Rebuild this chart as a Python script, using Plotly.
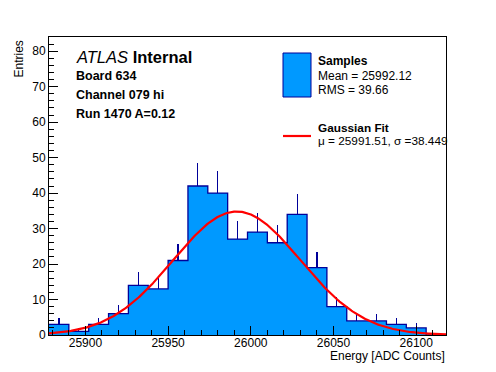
import numpy as np
import plotly.graph_objects as go

# ---- data ----
BIN_LOW = 25878
BIN_WIDTH = 12
counts = [3, 1, 3, 6, 14, 13, 21, 42, 40, 27, 29, 26, 34, 19, 8, 4, 4, 3, 2, 0]
x_range = [25878, 26118]
y_range = [0, 84]
x_ticks = [25900, 25950, 26000, 26050, 26100]
x_tick_labels = ["25900", "25950", "26000", "26050", "26100"]
y_ticks = [0, 10, 20, 30, 40, 50, 60, 70, 80]
y_tick_labels = ["0", "10", "20", "30", "40", "50", "60", "70", "80"]

FIT_MU = 25991.51
FIT_SIGMA = 38.449
FIT_AMP = 34.8

legend_lines = ["Samples", "Mean = 25992.12", "RMS = 39.66"]
fit_lines = ["Gaussian Fit", "\u03bc = 25991.51, \u03c3 =38.449"]
label_lines = ["Board 634", "Channel 079 hi", "Run 1470 A=0.12"]

FILL = "#0099ff"
EDGE = "#000099"
FONT = "Liberation Sans, Arial, Helvetica, sans-serif"

# ---- geometry (window pixels); page body has an 8px margin ----
OFF = 8
WIN_W, WIN_H = 496, 372
L, R, T, B = 49, 446, 37, 335


def px(xp):
    return (xp - L) / (R - L)


def py(yp):
    return (B - yp) / (B - T)


n = len(counts)
edges = [BIN_LOW + i * BIN_WIDTH for i in range(n + 1)]
centers = [BIN_LOW + (i + 0.5) * BIN_WIDTH for i in range(n)]
errs = list(np.sqrt(np.array(counts, dtype=float)))

fig = go.Figure()
fig.add_trace(go.Bar(
    x=centers, y=counts, width=BIN_WIDTH,
    marker=dict(color=FILL, line=dict(width=0)),
    error_y=dict(type="data", symmetric=False, array=errs,
                 arrayminus=[0] * n, color=EDGE, thickness=1.2, width=0),
    showlegend=False, hoverinfo="skip",
))
fig.add_trace(go.Scatter(
    x=edges, y=counts + [0], mode="lines", line_shape="hv",
    line=dict(color=EDGE, width=1.3), showlegend=False, hoverinfo="skip",
))
xs = np.linspace(x_range[0], x_range[1], 400)
fig.add_trace(go.Scatter(
    x=xs, y=FIT_AMP * np.exp(-0.5 * ((xs - FIT_MU) / FIT_SIGMA) ** 2),
    mode="lines", line=dict(color="#ff0000", width=2.2),
    showlegend=False, hoverinfo="skip",
))

axis_common = dict(
    showgrid=False, zeroline=False, showline=True, linecolor="black",
    linewidth=1, mirror=True, ticks="inside", tickcolor="black",
    tickfont=dict(family=FONT, size=12, color="black"),
)
fig.update_xaxes(range=x_range, tickvals=x_ticks, ticktext=x_tick_labels,
                 ticklen=9, ticklabelstandoff=-3,
                 minor=dict(ticks="inside", dtick=10, ticklen=5,
                            tickcolor="black", tick0=25900),
                 **axis_common)
fig.update_yaxes(range=y_range, tickvals=y_ticks, ticktext=y_tick_labels,
                 ticklen=9,
                 minor=dict(ticks="inside", dtick=2, ticklen=5,
                            tickcolor="black", tick0=0),
                 **axis_common)


def note(text, x, y, xanchor="left", yanchor="middle", size=12, angle=0):
    return dict(text=text, x=x, y=y, xref="paper", yref="paper",
                xanchor=xanchor, yanchor=yanchor, showarrow=False,
                textangle=angle, borderpad=0,
                font=dict(family=FONT, size=size, color="black"))


ann = [note("<i>ATLAS</i> <b>Internal</b>", px(75), py(57), size=16.5)]
for t, yy in zip(label_lines, [76, 95, 114]):
    ann.append(note("<b>%s</b>" % t, px(75), py(yy), size=12.5))
for i, (t, yy) in enumerate(zip(legend_lines, [61, 76, 90])):
    ann.append(note(("<b>%s</b>" % t) if i == 0 else t, px(317), py(yy)))
for i, (t, yy) in enumerate(zip(fit_lines, [128.5, 141])):
    ann.append(note(("<b>%s</b>" % t) if i == 0 else t, px(317), py(yy),
                    size=11.8))
ann.append(note("Entries", px(18), py(40), xanchor="center",
                yanchor="top", angle=-90))
ann.append(note("Energy [ADC Counts]", 1, py(356), xanchor="right"))

shapes = [
    dict(type="rect", xref="paper", yref="paper",
         x0=px(283), x1=px(311), y0=py(97), y1=py(53),
         fillcolor=FILL, line=dict(color=EDGE, width=1)),
    dict(type="line", xref="paper", yref="paper",
         x0=px(283), x1=px(311), y0=py(136), y1=py(136),
         line=dict(color="#ff0000", width=2.2)),
]

fig.update_layout(
    width=WIN_W - OFF, height=WIN_H - OFF, autosize=False,
    margin=dict(l=L - OFF, r=WIN_W - R, t=T - OFF, b=WIN_H - B, pad=0),
    paper_bgcolor="white", plot_bgcolor="white",
    bargap=0, annotations=ann, shapes=shapes,
    font=dict(family=FONT, size=12, color="black"),
)

fig.write_html("out.html")
